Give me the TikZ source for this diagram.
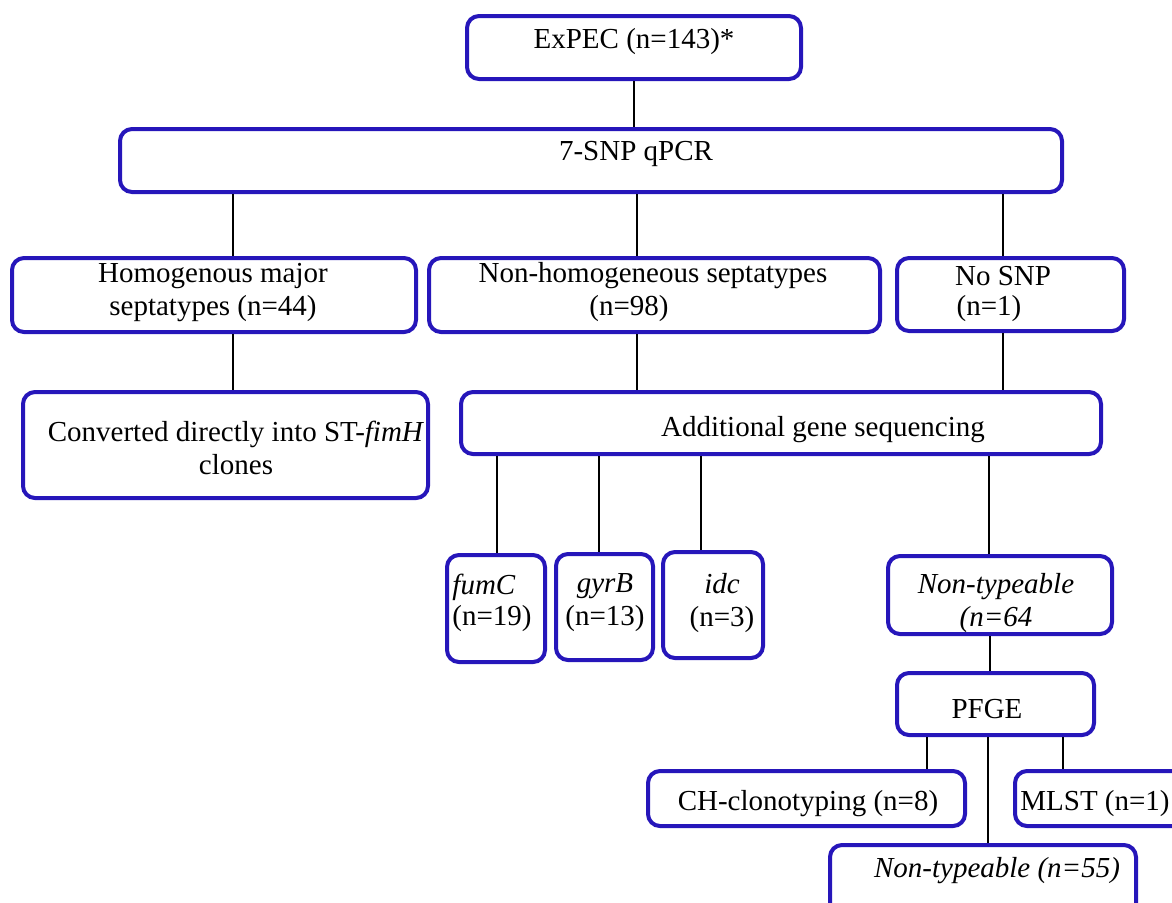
\documentclass[tikz,border=0pt]{standalone}
\usepackage{fontspec}
\setmainfont{Liberation Serif}
\usetikzlibrary{fit}
\definecolor{boxblue}{RGB}{38,22,186}
\begin{document}
\begin{tikzpicture}[x=0.5pt,y=-0.5pt,
  box/.style={draw=boxblue, line width=2pt, rounded corners=6pt, inner sep=0pt},
  txt/.style={inner sep=0pt, font=\fontsize{14.5}{16.5}\selectfont, align=center, yshift=-2pt},
  conn/.style={draw=black, line width=1.25pt}]
\useasboundingbox (0,0) rectangle (1172,902);
\clip (0,0) rectangle (1172,902);

% boxes
\node[box, fit={(467,16) (801,79)}] (expec) {};
\node[box, fit={(120,129) (1062,192)}] (snp) {};
\node[box, fit={(12,258) (416,332)}] (homo) {};
\node[box, fit={(429,258) (880,332)}] (nonhomo) {};
\node[box, fit={(897,258) (1124,331)}] (nosnp) {};
\node[box, fit={(23,392) (428,498)}] (conv) {};
\node[box, fit={(461,392) (1101,454)}] (addl) {};
\node[box, fit={(447,555) (545,662)}] (fumc) {};
\node[box, fit={(556,554) (653,660)}] (gyrb) {};
\node[box, fit={(663,552) (763,658)}] (idc) {};
\node[box, fit={(888,556) (1112,634)}] (nt64) {};
\node[box, fit={(897,673) (1094,735)}] (pfge) {};
\node[box, fit={(648,771) (965,826)}] (ch) {};
\node[box, fit={(1015,771) (1210,826)}] (mlst) {};
\node[box, fit={(830,845) (1136,940)}] (nt55) {};

% texts
\node[txt] (t-expec) at (634,38) {ExPEC (n=143)*};
\node[txt] (t-snp) at (636,150) {7-SNP qPCR};
\node[txt] (t-homo) at (213,289) {Homogenous major\\septatypes (n=44)};
\node[txt] (t-nonhomo1) at (653,272) {Non-homogeneous septatypes};
\node[txt] (t-nonhomo2) at (629,305) {(n=98)};
\node[txt] (t-nosnp1) at (1003,272) {No SNP};
\node[txt] (t-nosnp2) at (989,305) {(n=1)};
\node[txt] (t-conv) at (236,444) {Converted directly into ST-\textit{fimH}\\clones};
\node[txt] (t-addl) at (823,426) {Additional gene sequencing};
\node[txt] (t-fumc1) at (484,583) {\textit{fumC}};
\node[txt] (t-fumc2) at (492,615) {(n=19)};
\node[txt] (t-gyrb) at (605,599) {\textit{gyrB}\\(n=13)};
\node[txt] (t-idc) at (722,599) {\textit{idc}\\(n=3)};
\node[txt] (t-nt64) at (996,599) {\textit{Non-typeable}\\\textit{(n=64}};
\node[txt] (t-pfge) at (987,705) {PFGE};
\node[txt] (t-ch) at (808,800) {CH-clonotyping (n=8)};
\node[txt] (t-mlst) at (1095,800) {MLST (n=1)};
\node[txt] (t-nt55) at (997,867) {\textit{Non-typeable (n=55)}};

% connector x positions
\coordinate (x233) at (233,0);
\coordinate (x634) at (634,0);
\coordinate (x637) at (637,0);
\coordinate (x1003) at (1003,0);
\coordinate (x497) at (497,0);
\coordinate (x599) at (599,0);
\coordinate (x701) at (701,0);
\coordinate (x989) at (989,0);
\coordinate (x990) at (990,0);
\coordinate (x927) at (927,0);
\coordinate (x988) at (988,0);
\coordinate (x1063) at (1063,0);

% connectors
\draw[conn] (expec.south -| x634) -- (snp.north -| x634);
\draw[conn] (snp.south -| x233) -- (homo.north -| x233);
\draw[conn] (snp.south -| x637) -- (nonhomo.north -| x637);
\draw[conn] (snp.south -| x1003) -- (nosnp.north -| x1003);
\draw[conn] (homo.south -| x233) -- (conv.north -| x233);
\draw[conn] (nonhomo.south -| x637) -- (addl.north -| x637);
\draw[conn] (nosnp.south -| x1003) -- (addl.north -| x1003);
\draw[conn] (addl.south -| x497) -- (fumc.north -| x497);
\draw[conn] (addl.south -| x599) -- (gyrb.north -| x599);
\draw[conn] (addl.south -| x701) -- (idc.north -| x701);
\draw[conn] (addl.south -| x989) -- (nt64.north -| x989);
\draw[conn] (nt64.south -| x990) -- (pfge.north -| x990);
\draw[conn] (pfge.south -| x927) -- (ch.north -| x927);
\draw[conn] (pfge.south -| x988) -- (nt55.north -| x988);
\draw[conn] (pfge.south -| x1063) -- (mlst.north -| x1063);
\end{tikzpicture}
\end{document}
